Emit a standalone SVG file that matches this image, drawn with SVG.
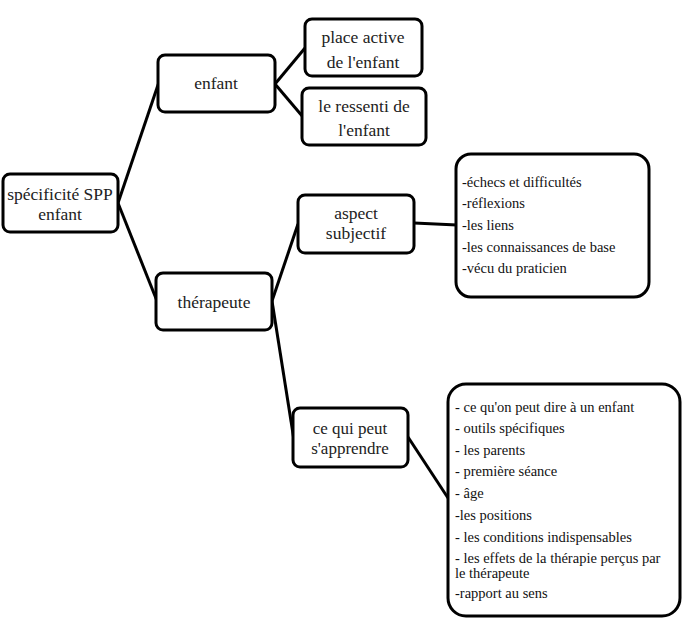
<svg xmlns="http://www.w3.org/2000/svg" width="682" height="629" viewBox="0 0 682 629">
<style>
.box{fill:#fff;stroke:#000;stroke-width:3}
.lbl{font-family:'Liberation Serif','Times New Roman','DejaVu Serif',serif;font-size:17.5px;fill:#222;text-anchor:middle}
.lst{font-family:'Liberation Serif','Times New Roman','DejaVu Serif',serif;font-size:14.5px;fill:#111}
.con{stroke:#000;stroke-width:3;fill:none}
</style>
<rect width="682" height="629" fill="#fff"/>
<g id="connectors">
<line class="con" x1="118" y1="203" x2="159" y2="82"/>
<line class="con" x1="118" y1="203" x2="157" y2="301"/>
<line class="con" x1="275" y1="84" x2="305" y2="48"/>
<line class="con" x1="275" y1="84" x2="303" y2="117"/>
<line class="con" x1="272" y1="301" x2="298" y2="224"/>
<line class="con" x1="272" y1="301" x2="294" y2="440"/>
<line class="con" x1="414" y1="223" x2="457" y2="225"/>
<line class="con" x1="408" y1="437" x2="448" y2="498"/>
</g>
<g id="root">
<rect class="box" x="3" y="174" width="115" height="58" rx="7"/>
<text class="lbl" x="60" y="200">spécificité SPP</text>
<text class="lbl" x="60" y="220">enfant</text>
</g>
<g id="enfant">
<rect class="box" x="158" y="55" width="117" height="57" rx="7"/>
<text class="lbl" x="216" y="89">enfant</text>
</g>
<g id="place-active">
<rect class="box" x="305" y="19" width="117" height="57" rx="7"/>
<text class="lbl" x="363" y="43">place active</text>
<text class="lbl" x="363" y="68">de l'enfant</text>
</g>
<g id="ressenti">
<rect class="box" x="302" y="88" width="124" height="57" rx="7"/>
<text class="lbl" x="364" y="112">le ressenti de</text>
<text class="lbl" x="364" y="136">l'enfant</text>
</g>
<g id="therapeute">
<rect class="box" x="156" y="273" width="116" height="57" rx="7"/>
<text class="lbl" x="214" y="308">thérapeute</text>
</g>
<g id="aspect">
<rect class="box" x="298" y="195" width="116" height="58" rx="7"/>
<text class="lbl" x="356" y="219">aspect</text>
<text class="lbl" x="356" y="239">subjectif</text>
</g>
<g id="liste-aspect">
<rect class="box" x="456" y="154" width="193" height="143" rx="15"/>
<text class="lst" x="462" y="187">-échecs et difficultés</text>
<text class="lst" x="462" y="208">-réflexions</text>
<text class="lst" x="462" y="230">-les liens</text>
<text class="lst" x="462" y="252">-les connaissances de base</text>
<text class="lst" x="462" y="273">-vécu du praticien</text>
</g>
<g id="apprendre">
<rect class="box" x="293" y="408" width="115" height="59" rx="7"/>
<text class="lbl" x="350" y="434" style="font-size:17px">ce qui peut</text>
<text class="lbl" x="350" y="454" style="font-size:17px">s'apprendre</text>
</g>
<g id="liste-apprendre">
<rect class="box" x="448" y="384" width="232" height="232" rx="18"/>
<text class="lst" x="455" y="412">- ce qu'on peut dire à un enfant</text>
<text class="lst" x="455" y="433">- outils spécifiques</text>
<text class="lst" x="455" y="455">- les parents</text>
<text class="lst" x="455" y="476">- première séance</text>
<text class="lst" x="455" y="498">- âge</text>
<text class="lst" x="455" y="520">-les positions</text>
<text class="lst" x="455" y="542">- les conditions indispensables</text>
<text class="lst" x="455" y="563">- les effets de la thérapie perçus par</text>
<text class="lst" x="455" y="578">le thérapeute</text>
<text class="lst" x="455" y="598">-rapport au sens</text>
</g>
</svg>
